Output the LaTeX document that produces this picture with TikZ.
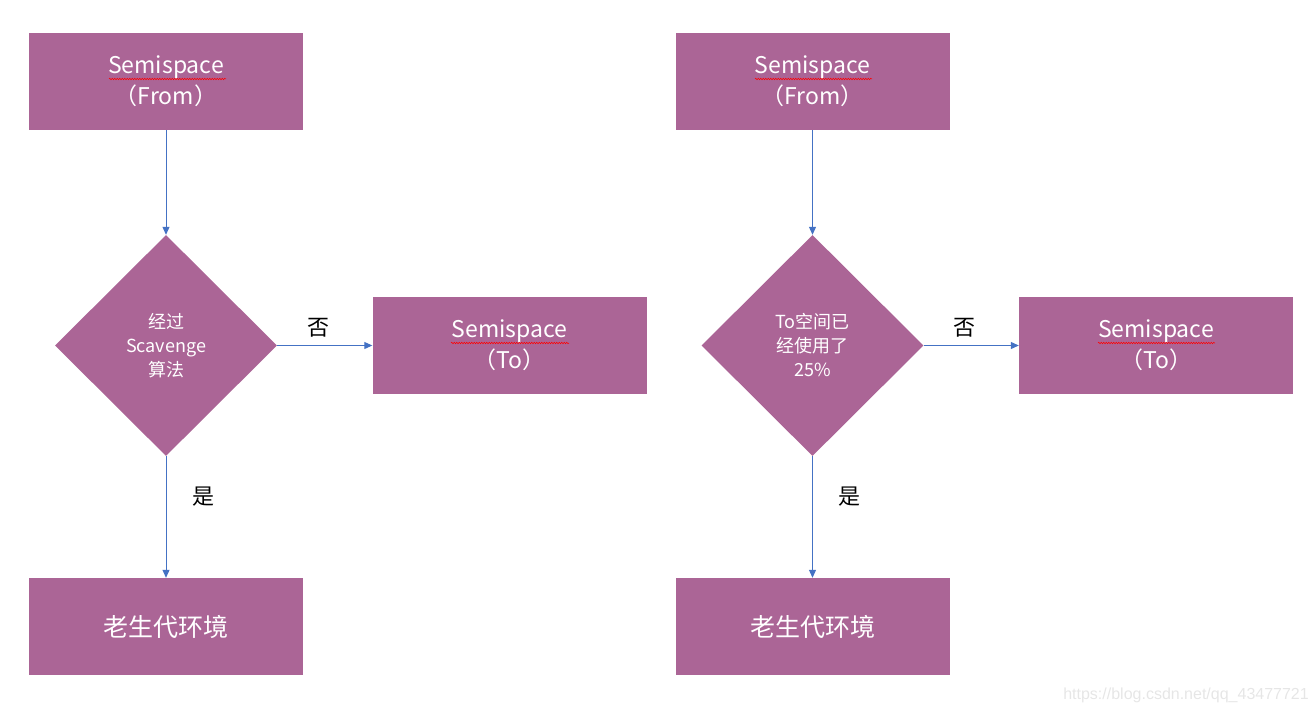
\documentclass[tikz,border=0pt]{standalone}
\usepackage{fontspec}
\setmainfont{Noto Sans CJK SC}
\newfontfamily\wmfont{Liberation Sans}
\usetikzlibrary{shapes.geometric,arrows.meta,decorations.pathmorphing}
\definecolor{boxfill}{HTML}{AB6596}
\definecolor{arrowblue}{HTML}{4472C4}
\definecolor{wmgray}{HTML}{E6E6E6}
\begin{document}
\begin{tikzpicture}[x=1pt,y=-1pt,
  box/.style={fill=boxfill, draw=none, minimum width=274pt, minimum height=97pt,
    text=white, font=\fontsize{23}{31}\selectfont, align=center, inner sep=0pt},
  dec/.style={diamond, fill=boxfill, draw=none, minimum width=222pt, minimum height=221pt,
    inner sep=0pt, text=white, font=\fontsize{18}{24}\selectfont, align=center},
  conn/.style={draw=arrowblue, line width=1pt, -{Triangle[length=8pt,width=7pt]}},
  lbl/.style={font=\fontsize{22}{24}\selectfont, text=black},
  wavy/.style={draw=red, line width=0.5pt, decorate, decoration={snake, amplitude=0.8pt, segment length=2.5pt}}
]
\useasboundingbox (0,0) rectangle (1316,714);

% left column
\node[box] (fromL) at (166,81.5) {\raisebox{-2pt}{Semispace}\\\raisebox{-2pt}{（From）}};
\node[dec] (decL) at (166,345.5) {经过\\Scavenge\\算法};
\node[box] (toL) at (509.5,345.5) {\raisebox{-2pt}{Semispace}\\\raisebox{-2pt}{（To）}};
\node[box, font=\fontsize{25}{30}\selectfont] (oldL) at (166,626.5) {老生代环境};
\draw[conn] (fromL.south) -- (decL.north);
\draw[conn] (decL.east) -- (toL.west);
\draw[conn] (decL.south) -- (oldL.north);
\node[lbl] (noL) at (318,328) {否};
\node[lbl] (yesL) at (203,497) {是};

% right column
\node[box] (fromR) at (812.5,81.5) {\raisebox{-2pt}{Semispace}\\\raisebox{-2pt}{（From）}};
\node[dec] (decR) at (812.5,345.5) {To空间已\\经使用了\\25\%};
\node[box] (toR) at (1156,345.5) {\raisebox{-2pt}{Semispace}\\\raisebox{-2pt}{（To）}};
\node[box, font=\fontsize{25}{30}\selectfont] (oldR) at (812.5,626.5) {老生代环境};
\draw[conn] (fromR.south) -- (decR.north);
\draw[conn] (decR.east) -- (toR.west);
\draw[conn] (decR.south) -- (oldR.north);
\node[lbl] (noR) at (964,328) {否};
\node[lbl] (yesR) at (849,497) {是};

% spell-check underlines
\draw[wavy] (109,79) -- (226,79);
\draw[wavy] (451,343) -- (569,343);
\draw[wavy] (755,79) -- (872,79);
\draw[wavy] (1098,343) -- (1215,343);

% watermark
\node[anchor=east, text=wmgray, font=\wmfont\fontsize{16}{18}\selectfont, inner sep=0pt] (wm) at (1309,695) {https://blog.csdn.net/qq\_43477721};
\end{tikzpicture}
\end{document}
